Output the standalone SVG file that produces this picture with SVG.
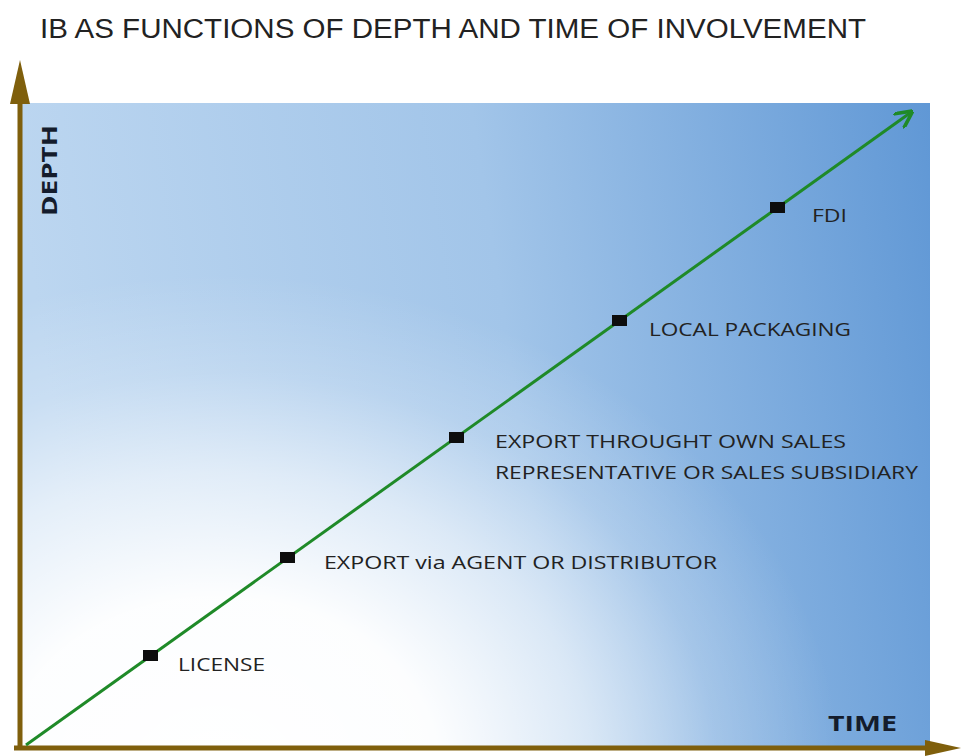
<svg xmlns="http://www.w3.org/2000/svg" width="961" height="756" viewBox="0 0 961 756">
  <defs>
    <linearGradient id="bg" x1="20" y1="200" x2="930" y2="60" gradientUnits="userSpaceOnUse">
      <stop offset="0" stop-color="#bcd6f0"/>
      <stop offset="0.5" stop-color="#a2c5e9"/>
      <stop offset="1" stop-color="#5f97d5"/>
    </linearGradient>
    <radialGradient id="glow" cx="220" cy="770" r="620" gradientUnits="userSpaceOnUse" gradientTransform="translate(220 770) scale(1 0.8) translate(-220 -770)">
      <stop offset="0" stop-color="#ffffff" stop-opacity="1"/>
      <stop offset="0.35" stop-color="#ffffff" stop-opacity="0.97"/>
      <stop offset="0.6" stop-color="#ffffff" stop-opacity="0.6"/>
      <stop offset="0.8" stop-color="#ffffff" stop-opacity="0.2"/>
      <stop offset="1" stop-color="#ffffff" stop-opacity="0"/>
    </radialGradient>
    <marker id="greenHead" viewBox="0 0 10 10" refX="8" refY="5" markerWidth="6" markerHeight="6" orient="auto" markerUnits="strokeWidth">
      <path d="M0,0 L10,5 L0,10" fill="none" stroke="#1f8a28" stroke-width="2"/>
    </marker>
  </defs>
  <style>
    .lbl { font-family: "Open Sans", "Liberation Sans", sans-serif; font-size: 19px; fill: #222; }
    .axis { font-family: "Open Sans", "Liberation Sans", sans-serif; font-size: 21px; font-weight: bold; fill: #141c2c; }
    .pt { fill: #0d0d0d; }
  </style>

  <rect width="961" height="756" fill="#ffffff"/>

  <!-- plot area -->
  <rect x="20" y="103" width="910" height="643" fill="url(#bg)"/>
  <rect x="20" y="103" width="910" height="643" fill="url(#glow)"/>

  <!-- title -->
  <text x="40" y="38" font-family="'Liberation Sans', Arial, sans-serif" font-size="27" fill="#222" textLength="826" lengthAdjust="spacingAndGlyphs">IB AS FUNCTIONS OF DEPTH AND TIME OF INVOLVEMENT</text>

  <!-- axes -->
  <g id="axes">
    <line x1="20" y1="748" x2="20" y2="95" stroke="#7f5f0c" stroke-width="5"/>
    <polygon points="20,60 10,104 30,104" fill="#7f5f0c"/>
    <line x1="14" y1="748" x2="930" y2="748" stroke="#7f5f0c" stroke-width="5"/>
    <polygon points="961,748 925,740 925,756" fill="#7f5f0c"/>
    <text class="axis" transform="translate(57,216) rotate(-90)" textLength="91" lengthAdjust="spacingAndGlyphs">DEPTH</text>
    <text class="axis" x="828" y="731" textLength="69" lengthAdjust="spacingAndGlyphs">TIME</text>
  </g>

  <!-- connectors -->
  <g id="connectors">
    <line x1="26" y1="745" x2="910" y2="113" stroke="#1f8a28" stroke-width="3" marker-end="url(#greenHead)"/>
  </g>

  <g id="license">
    <rect class="pt" x="143" y="650" width="15" height="11"/>
    <text class="lbl" x="178" y="671" textLength="87" lengthAdjust="spacingAndGlyphs">LICENSE</text>
  </g>
  <g id="export-agent">
    <rect class="pt" x="280" y="552" width="15" height="11"/>
    <text class="lbl" x="324" y="569" textLength="393" lengthAdjust="spacingAndGlyphs">EXPORT via AGENT OR DISTRIBUTOR</text>
  </g>
  <g id="export-own">
    <rect class="pt" x="449" y="432" width="15" height="11"/>
    <text class="lbl" x="495" y="448" textLength="351" lengthAdjust="spacingAndGlyphs">EXPORT THROUGHT OWN SALES</text>
    <text class="lbl" x="495" y="479" textLength="423" lengthAdjust="spacingAndGlyphs">REPRESENTATIVE OR SALES SUBSIDIARY</text>
  </g>
  <g id="local-packaging">
    <rect class="pt" x="612" y="315" width="15" height="11"/>
    <text class="lbl" x="649" y="336" textLength="202" lengthAdjust="spacingAndGlyphs">LOCAL PACKAGING</text>
  </g>
  <g id="fdi">
    <rect class="pt" x="770" y="202" width="15" height="11"/>
    <text class="lbl" x="812" y="222" textLength="35" lengthAdjust="spacingAndGlyphs">FDI</text>
  </g>
</svg>
